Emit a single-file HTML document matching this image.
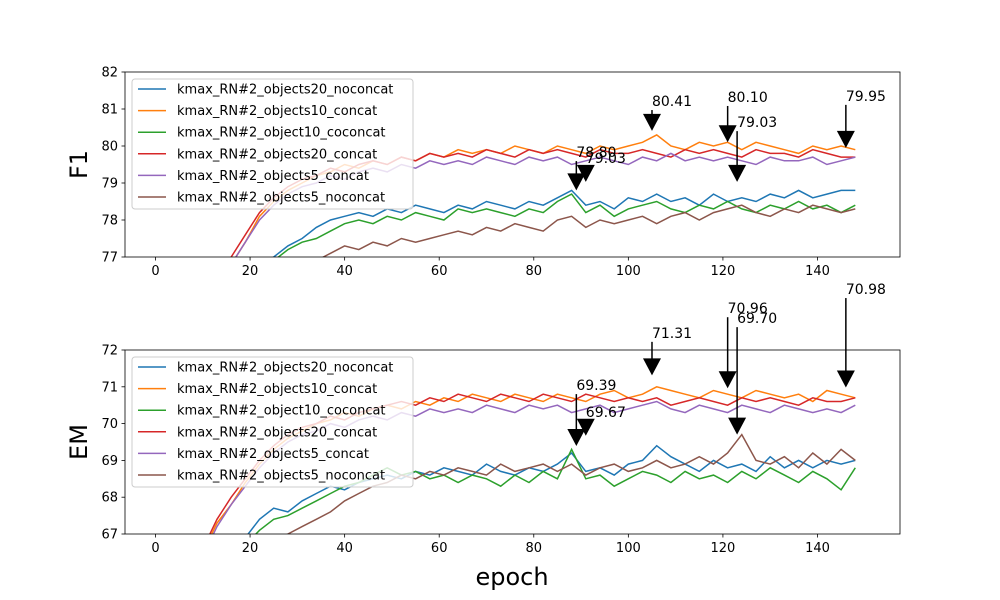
<!DOCTYPE html>
<html><head><meta charset="utf-8">
<style>
html,body{margin:0;padding:0;background:#fff;width:1000px;height:600px;overflow:hidden;}
svg{display:block;font-family:"DejaVu Sans","Liberation Sans",sans-serif;}
</style></head>
<body>
<svg id="chart" width="1000" height="600" viewBox="0 0 1000 600" xmlns="http://www.w3.org/2000/svg"></svg>
<script>
const epochs=[1,4,7,10,13,16,19,22,25,28,31,34,37,40,43,46,49,52,55,58,61,64,67,70,73,76,79,82,85,88,91,94,97,100,103,106,109,112,115,118,121,124,127,130,133,136,139,142,145,148];
const seriesNames=["kmax_RN#2_objects20_noconcat","kmax_RN#2_objects10_concat","kmax_RN#2_object10_coconcat","kmax_RN#2_objects20_concat","kmax_RN#2_objects5_concat","kmax_RN#2_objects5_noconcat"];
const f1Blue=[71,72,73,74,75,75.8,76.4,76.8,77.0,77.3,77.5,77.8,78.0,78.1,78.2,78.1,78.3,78.2,78.4,78.3,78.2,78.4,78.3,78.5,78.4,78.3,78.5,78.4,78.6,78.8,78.4,78.5,78.3,78.6,78.5,78.7,78.5,78.6,78.4,78.7,78.5,78.6,78.5,78.7,78.6,78.8,78.6,78.7,78.8,78.8];
const f1Orange=[72,73.5,74.5,75.5,76.3,76.8,77.4,78.1,78.5,78.8,79.0,79.2,79.3,79.5,79.4,79.6,79.5,79.7,79.6,79.8,79.7,79.9,79.8,79.9,79.8,80.0,79.9,79.8,80.0,79.9,79.8,80.0,79.9,80.0,80.1,80.3,80.0,79.9,80.1,80.0,80.1,79.9,80.1,80.0,79.9,79.8,80.0,79.9,80.0,79.9];
const f1Green=[70.5,71.5,72.5,73.5,74.5,75.3,76.0,76.5,76.9,77.2,77.4,77.5,77.7,77.9,78.0,77.9,78.1,78.0,78.2,78.1,78.0,78.3,78.2,78.3,78.2,78.1,78.3,78.2,78.5,78.7,78.2,78.4,78.1,78.3,78.4,78.5,78.3,78.2,78.4,78.3,78.5,78.3,78.2,78.4,78.3,78.5,78.3,78.4,78.2,78.4];
const f1Red=[72,73.5,74.6,75.6,76.4,77.0,77.6,78.2,78.6,78.9,79.1,79.2,79.4,79.3,79.5,79.6,79.5,79.7,79.6,79.8,79.7,79.8,79.7,79.9,79.8,79.7,79.9,79.8,79.9,79.8,79.7,79.9,79.8,79.8,79.9,79.8,79.7,79.9,79.8,79.9,79.8,79.7,79.9,79.8,79.8,79.7,79.9,79.8,79.7,79.7];
const f1Purple=[72,73.3,74.4,75.4,76.2,76.8,77.4,78.0,78.4,78.7,78.9,79.0,79.2,79.1,79.3,79.4,79.3,79.5,79.4,79.6,79.5,79.6,79.5,79.7,79.6,79.5,79.7,79.6,79.7,79.5,79.6,79.7,79.6,79.5,79.7,79.6,79.8,79.6,79.7,79.6,79.7,79.6,79.5,79.7,79.6,79.6,79.7,79.5,79.6,79.7];
const f1Brown=[70,71,72,73,74,74.7,75.3,75.8,76.2,76.5,76.7,76.9,77.1,77.3,77.2,77.4,77.3,77.5,77.4,77.5,77.6,77.7,77.6,77.8,77.7,77.9,77.8,77.7,78.0,78.1,77.8,78.0,77.9,78.0,78.1,77.9,78.1,78.2,78.0,78.2,78.3,78.4,78.2,78.1,78.3,78.2,78.4,78.3,78.2,78.3];
const emBlue=[60,62,63.5,64.5,65.5,66.3,66.9,67.4,67.7,67.6,67.9,68.1,68.3,68.2,68.4,68.5,68.6,68.5,68.7,68.6,68.8,68.7,68.6,68.9,68.7,68.6,68.8,68.7,68.9,69.2,68.7,68.8,68.6,68.9,69.0,69.4,69.1,68.9,68.7,69.0,68.8,68.9,68.7,69.1,68.8,69.0,68.8,69.0,68.9,69.0];
const emOrange=[62,64,65.5,66.5,67.3,67.8,68.4,68.9,69.3,69.6,69.8,70.0,70.1,70.3,70.2,70.4,70.5,70.4,70.6,70.5,70.7,70.6,70.8,70.7,70.6,70.8,70.7,70.6,70.8,70.7,70.6,70.8,70.9,70.7,70.8,71.0,70.9,70.8,70.7,70.9,70.8,70.7,70.9,70.8,70.7,70.8,70.6,70.9,70.8,70.7];
const emGreen=[60,62,63.3,64.3,65.3,66.1,66.7,67.1,67.4,67.5,67.7,67.9,68.1,68.3,68.4,68.6,68.8,68.6,68.7,68.5,68.6,68.4,68.6,68.5,68.3,68.6,68.4,68.7,68.5,69.3,68.5,68.6,68.3,68.5,68.7,68.6,68.4,68.7,68.5,68.6,68.4,68.7,68.5,68.8,68.6,68.4,68.7,68.5,68.2,68.8];
const emRed=[62,64,65.6,66.6,67.4,68.0,68.5,69.0,69.4,69.7,69.9,70.0,70.2,70.1,70.3,70.4,70.5,70.6,70.5,70.7,70.6,70.8,70.7,70.6,70.8,70.7,70.6,70.8,70.7,70.6,70.8,70.7,70.6,70.7,70.6,70.7,70.5,70.6,70.7,70.6,70.5,70.7,70.6,70.7,70.6,70.5,70.7,70.6,70.6,70.7];
const emPurple=[62,64,65.4,66.4,67.2,67.8,68.3,68.8,69.2,69.5,69.7,69.8,70.0,69.9,70.1,70.2,70.1,70.3,70.2,70.4,70.3,70.4,70.3,70.5,70.4,70.3,70.5,70.4,70.5,70.3,70.4,70.5,70.3,70.4,70.5,70.6,70.4,70.3,70.5,70.4,70.3,70.5,70.4,70.3,70.5,70.4,70.3,70.4,70.3,70.5];
const emBrown=[59,61,62.5,63.5,64.5,65.3,66.0,66.5,66.8,67.0,67.2,67.4,67.6,67.9,68.1,68.3,68.4,68.6,68.5,68.7,68.6,68.8,68.7,68.6,68.9,68.7,68.8,68.9,68.7,68.9,68.6,68.8,68.9,68.7,68.8,69.0,68.8,68.9,69.1,68.9,69.2,69.7,69.0,68.9,69.1,68.8,69.2,68.9,69.3,69.0];
const xTicks=[0,20,40,60,80,100,120,140];
const f1Ticks=[77,78,79,80,81,82];
const emTicks=[67,68,69,70,71,72];
const f1AnnEpoch=[89,91,105,121,123,146];
const f1AnnValue=[78.80,79.03,80.41,80.10,79.03,79.95];
const f1AnnText=[79.70,79.54,81.08,81.19,80.51,81.22];
const emAnnEpoch=[89,91,105,121,123,146];
const emAnnValue=[69.39,69.67,71.31,70.96,69.70,70.98];
const emAnnText=[70.91,70.18,72.33,73.0,72.73,73.52];

const colors=["#1f77b4","#ff7f0e","#2ca02c","#d62728","#9467bd","#8c564b"];
const NS="http://www.w3.org/2000/svg";
const svg=document.getElementById('chart');
function mk(tag,attrs,parent){const e=document.createElementNS(NS,tag);for(const k in attrs)e.setAttribute(k,attrs[k]);(parent||svg).appendChild(e);return e;}
const L=125,R=900,xmin=-6.45,xmax=157.45;
const xs=v=>L+(v-xmin)/(xmax-xmin)*(R-L);

function panel(id,top,bottom,ymin,ymax,series,ticks,label,annE,annV,annT){
  const ys=v=>bottom-(v-ymin)/(ymax-ymin)*(bottom-top);
  const g=mk('g',{});
  
  
  const clip=mk('clipPath',{id:'clip-'+id},g);
  mk('rect',{x:L,y:top,width:R-L,height:bottom-top},clip);
  const lines=mk('g',{'clip-path':'url(#clip-'+id+')'},g);
  series.forEach((s,i)=>{
    const p=mk('polyline',{points:s.map((v,j)=>xs(epochs[j]).toFixed(1)+','+ys(v).toFixed(1)).join(' '),fill:'none',stroke:colors[i],'stroke-width':1.5},lines);
    
    
  });
  const fr=mk('rect',{x:L,y:top,width:R-L,height:bottom-top,fill:'none',stroke:'#000','stroke-width':0.8},g);
  
  
  xTicks.forEach(t=>{
    const x=xs(t);
    mk('line',{x1:x,x2:x,y1:bottom,y2:bottom+3.5,stroke:'#000','stroke-width':0.8},g);
    const tx=mk('text',{x:x,y:bottom+18,'text-anchor':'middle','font-size':13,fill:'#000'},g);
    tx.textContent=t;
    
    
  });
  ticks.forEach(t=>{
    const y=ys(t);
    mk('line',{x1:L-3.5,x2:L,y1:y,y2:y,stroke:'#000','stroke-width':0.8},g);
    const tx=mk('text',{x:L-7,y:y+4.5,'text-anchor':'end','font-size':13,fill:'#000'},g);
    tx.textContent=t;
    
    
  });
  const yl=mk('text',{x:0,y:0,transform:'translate('+(L-38)+','+((top+bottom)/2)+') rotate(-90)','text-anchor':'middle','font-size':24,fill:'#000'},g);
  yl.textContent=label;
  
  
  annE.forEach((e,i)=>{
    const x=xs(e),yt=ys(annV[i]),ytx=ys(annT[i]);
    const a=mk('g',{},g);
    
    
    mk('line',{x1:x,x2:x,y1:ytx+4,y2:yt-15,stroke:'#000','stroke-width':1.5},a);
    mk('polygon',{points:(x-9)+','+(yt-17)+' '+(x+9)+','+(yt-17)+' '+x+','+yt,fill:'#000'},a);
    const t=mk('text',{x:x,y:ytx,'font-size':14,fill:'#000'},a);
    t.textContent=annV[i].toFixed(2);
  });
  const lg=mk('g',{},g);
  
  
  mk('rect',{x:132,y:top+7,width:281,height:130,rx:3,fill:'rgba(255,255,255,0.8)',stroke:'#ccc','stroke-width':1},lg);
  seriesNames.forEach((n,i)=>{
    const y=top+17+i*21.6;
    const en=mk('g',{},lg);
    
    
    mk('line',{x1:138,x2:166,y1:y,y2:y,stroke:colors[i],'stroke-width':1.5},en);
    const t=mk('text',{x:177,y:y+4.5,'font-size':13,fill:'#000'},en);
    t.textContent=n;
  });
}
panel('f1',72,257,77,82,[f1Blue,f1Orange,f1Green,f1Red,f1Purple,f1Brown],f1Ticks,'F1',f1AnnEpoch,f1AnnValue,f1AnnText);
panel('em',350,534,67,72,[emBlue,emOrange,emGreen,emRed,emPurple,emBrown],emTicks,'EM',emAnnEpoch,emAnnValue,emAnnText);
const xl=mk('text',{x:512,y:585,'text-anchor':'middle','font-size':24,fill:'#000'});
xl.textContent='epoch';


</script>
</body></html>
